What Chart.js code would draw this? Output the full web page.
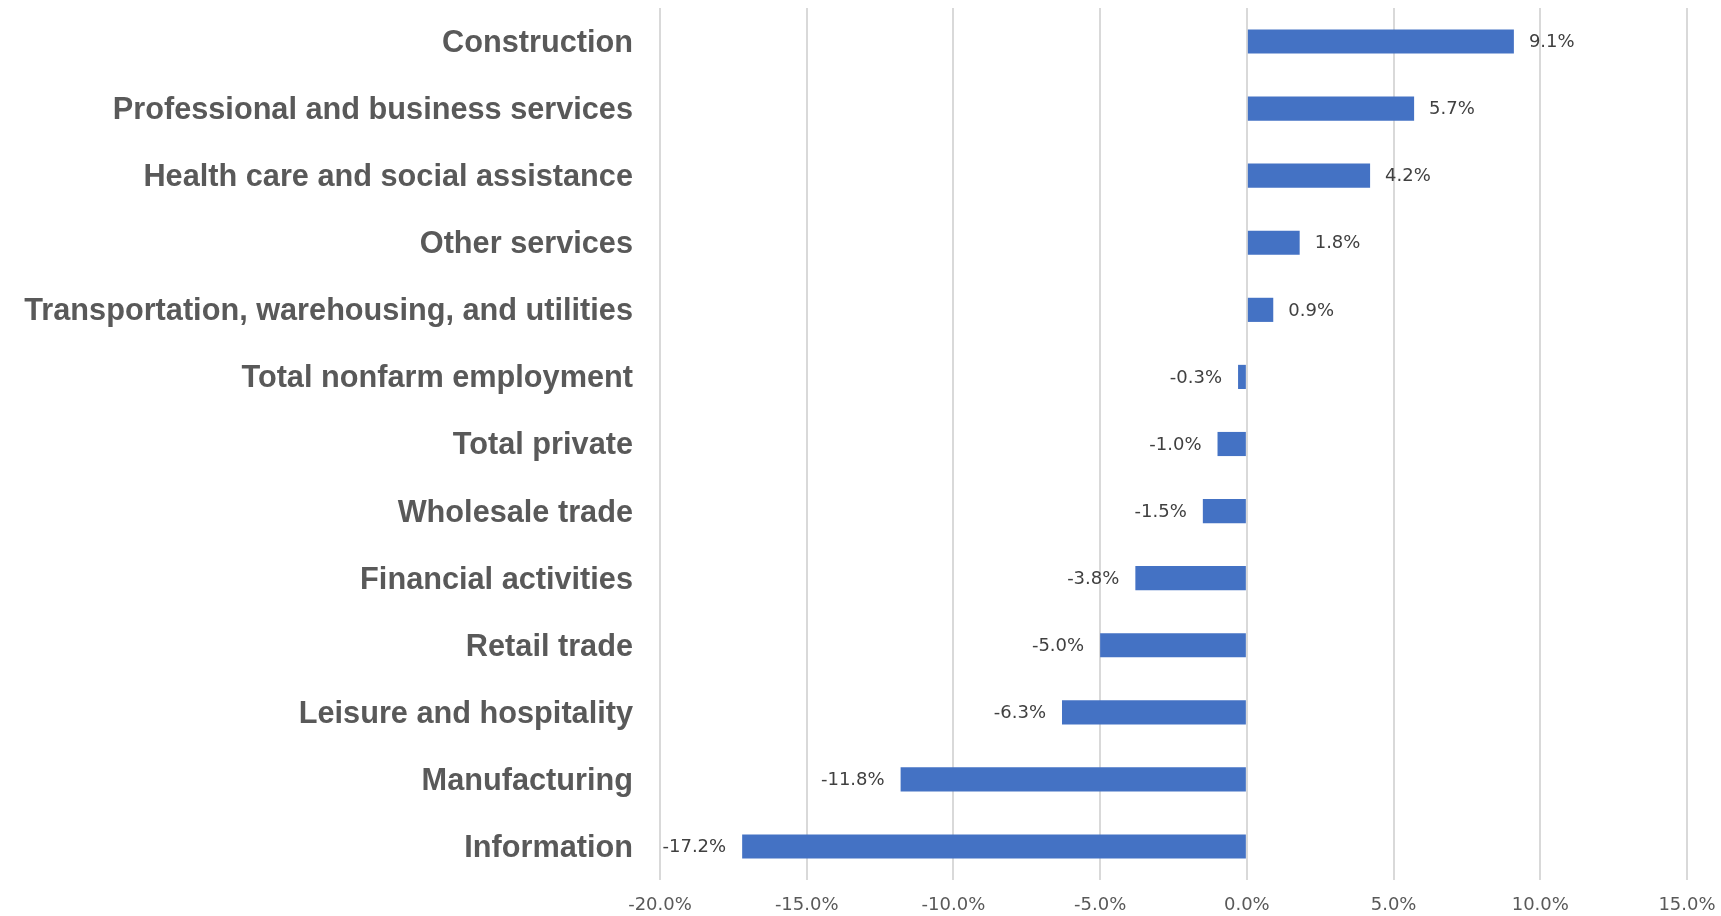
<!DOCTYPE html>
<html>
<head>
<meta charset="utf-8">
<script src="https://cdn.jsdelivr.net/npm/chart.js@4"></script>
<style>
  html, body { margin: 0; padding: 0; background: #fff; }
  #wrap { width: 1721px; height: 916px; }
</style>
</head>
<body>
<div id="wrap"><canvas id="barChart"></canvas></div>
<script>
// industries, top to bottom
const industries = [
    "Construction",
    "Professional and business services",
    "Health care and social assistance",
    "Other services",
    "Transportation, warehousing, and utilities",
    "Total nonfarm employment",
    "Total private",
    "Wholesale trade",
    "Financial activities",
    "Retail trade",
    "Leisure and hospitality",
    "Manufacturing",
    "Information"
];
// percent change
const changes = [9.1, 5.7, 4.2, 1.8, 0.9, -0.3, -1.0, -1.5, -3.8, -5.0, -6.3, -11.8, -17.2];
const xMin = -20;
const xMax = 15;
const xStep = 5;

function pct(v){
    return v.toFixed(1) + "%";
}

// labels at the end of each bar
const barLabels = {
    id: 'barLabels',
    afterDatasetsDraw(chart){
        let ctx = chart.ctx;
        let meta = chart.getDatasetMeta(0);
        ctx.save();
        ctx.font = "18px 'DejaVu Sans'";
        ctx.fillStyle = "#404040";
        ctx.textBaseline = "middle";
        meta.data.forEach(function(bar, i){
            let v = changes[i];
            if(v >= 0){
                ctx.textAlign = "left";
                ctx.fillText(pct(v), bar.x + 15, bar.y + 1);
            } else {
                ctx.textAlign = "right";
                ctx.fillText(pct(v), bar.x - 16, bar.y + 1);
            }
        });
        ctx.restore();
    }
};

var ctx = document.getElementById('barChart').getContext('2d');
var myChart = new Chart(ctx, {
    type: 'bar',
    data: {
        labels: industries,
        datasets: [{
            data: changes,
            backgroundColor: '#4472C4',
            borderWidth: 0,
            barPercentage: 0.36,
            categoryPercentage: 1
        }]
    },
    plugins: [barLabels],
    options: {
        indexAxis: 'y',
        responsive: true,
        maintainAspectRatio: false,
        animation: false,
        layout: { padding: { top: 8, right: 34, left: 0, bottom: 0 } },
        plugins: {
            legend: { display: false },
            tooltip: { enabled: false }
        },
        scales: {
            x: {
                min: xMin,
                max: xMax,
                ticks: {
                    stepSize: xStep,
                    color: '#595959',
                    font: { family: 'DejaVu Sans', size: 18 },
                    padding: 15,
                    callback: function(v){ return pct(v); }
                },
                grid: { color: '#d9d9d9', lineWidth: 2, drawTicks: false },
                border: { display: false },
                afterFit: function(scale){
                    scale.height = 36;
                    scale.paddingLeft = 0;
                    scale.paddingRight = 0;
                }
            },
            y: {
                ticks: {
                    color: '#595959',
                    font: { family: 'Liberation Sans', size: 30.7, weight: 'bold' },
                    padding: 27,
                    labelOffset: 2
                },
                grid: { display: false, drawTicks: false },
                border: { display: false },
                afterFit: function(scale){
                    scale.width = 660;
                    scale.paddingTop = 0;
                    scale.paddingBottom = 0;
                }
            }
        }
    }
});
</script>
</body>
</html>
